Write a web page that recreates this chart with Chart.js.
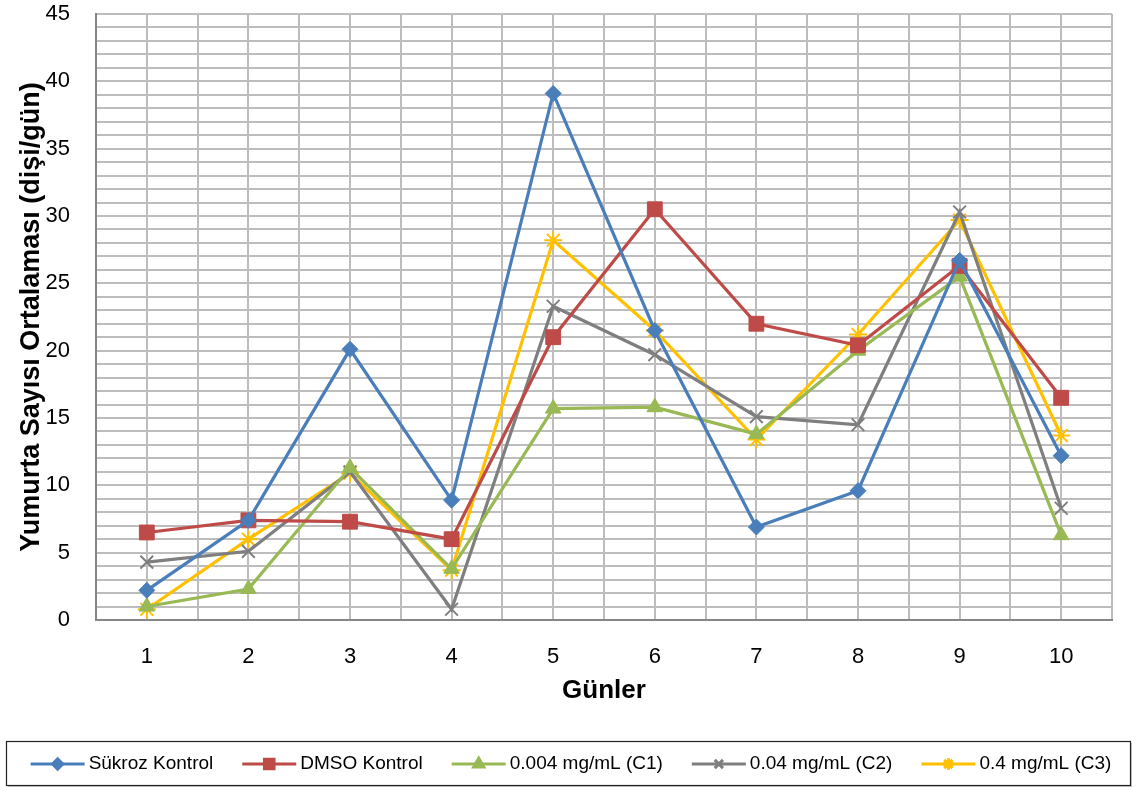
<!DOCTYPE html>
<html>
<head>
<meta charset="utf-8">
<script src="https://cdn.jsdelivr.net/npm/chart.js@4/dist/chart.umd.min.js"></script>
<style>
  html, body { margin: 0; padding: 0; background: #fff; }
  #wrap { width: 1136px; height: 787px; }
</style>
</head>
<body>
<div id="wrap"><canvas id="c" width="1136" height="787"></canvas></div>
<script>
const categories = [1, 2, 3, 4, 5, 6, 7, 8, 9, 10];
const seriesNames = ['Sükroz Kontrol', 'DMSO Kontrol', '0.004 mg/mL (C1)', '0.04 mg/mL (C2)', '0.4 mg/mL (C3)'];
const sukroz = [2.2, 7.4, 20.1, 8.9, 39.1, 21.5, 6.9, 9.6, 26.7, 12.2];
const dmso   = [6.5, 7.4, 7.3, 6.0, 21.0, 30.5, 22.0, 20.4, 26.3, 16.5];
const c1     = [1.0, 2.3, 11.3, 3.8, 15.7, 15.8, 13.8, 20.0, 25.5, 6.3];
const c2     = [4.3, 5.1, 11.0, 0.8, 23.3, 19.7, 15.1, 14.5, 30.3, 8.3];
const c3     = [0.8, 6.0, 10.9, 3.7, 28.2, 21.5, 13.4, 21.2, 29.7, 13.7];
const yTickLabels = [0, 5, 10, 15, 20, 25, 30, 35, 40, 45];
const xTitle = 'Günler';
const yTitle = 'Yumurta Sayısı Ortalaması (dişi/gün)';

const colors = ['#4A7EBB', '#BE4B48', '#98B954', '#7F7F7F', '#FFC000'];
const styles = ['rectRot', 'rect', 'triangle', 'crossRot', 'star'];
const radii = [8, 10.5, 9, 9, 9];
const allSeries = [sukroz, dmso, c1, c2, c3];

const datasets = allSeries.map((vals, i) => ({
  label: seriesNames[i],
  data: categories.map((c, k) => ({ x: c, y: vals[k] })),
  borderColor: colors[i],
  backgroundColor: colors[i],
  borderWidth: 3.2,
  pointStyle: styles[i],
  pointRadius: radii[i],
  pointBorderWidth: (i >= 3) ? 2 : 1,
  pointBorderColor: colors[i],
  pointBackgroundColor: colors[i],
  tension: 0
}));

function drawLegend(chart) {
  const ctx = chart.ctx;
  const bx = 6, by = 741, bw = 1124, bh = 44;
  ctx.save();
  ctx.fillStyle = '#C8C8C8';
  ctx.fillRect(bx + 2, by + 2, bw, bh);
  ctx.fillStyle = '#fff';
  ctx.fillRect(bx, by, bw, bh);
  ctx.strokeStyle = '#222';
  ctx.lineWidth = 1.2;
  ctx.strokeRect(bx + 0.5, by + 0.5, bw, bh);
  ctx.font = '19px "Liberation Sans", Arial, sans-serif';
  ctx.textBaseline = 'middle';
  const lineLen = 54, gap = 4, spacing = 29;
  const widths = chart.data.datasets.map(d => ctx.measureText(d.label).width);
  const total = widths.reduce((a, w) => a + lineLen + gap + w, 0) + spacing * (widths.length - 1);
  let x = bx + (bw - total) / 2 + 3;
  const cy = by + bh / 2 + 1;
  chart.data.datasets.forEach((d, i) => {
    ctx.strokeStyle = d.borderColor;
    ctx.lineWidth = 3;
    ctx.beginPath();
    ctx.moveTo(x, cy);
    ctx.lineTo(x + lineLen, cy);
    ctx.stroke();
    ctx.fillStyle = d.borderColor;
    ctx.strokeStyle = d.borderColor;
    Chart.helpers.drawPoint(ctx, {
      pointStyle: d.pointStyle,
      radius: d.pointRadius * 0.65,
      rotation: 0,
      borderWidth: d.pointBorderWidth
    }, x + lineLen / 2, cy);
    ctx.fillStyle = '#000';
    ctx.textAlign = 'left';
    ctx.fillText(d.label, x + lineLen + gap, cy);
    x += lineLen + gap + widths[i] + spacing;
  });
  ctx.restore();
}

new Chart(document.getElementById('c'), {
  type: 'line',
  data: { datasets },
  plugins: [{ id: 'boxLegend', afterDraw: drawLegend }],
  options: {
    responsive: false,
    animation: false,
    devicePixelRatio: 1,
    layout: { padding: { top: 14, right: 16, bottom: 77, left: 0 } },
    plugins: {
      legend: { display: false },
      tooltip: { enabled: false }
    },
    scales: {
      x: {
        type: 'linear',
        min: 0.5,
        max: 10.5,
        afterFit(scale) { scale.height = 90; },
        border: { color: '#868686', width: 2 },
        grid: { color: '#BDBDBD', lineWidth: 2, drawTicks: false },
        ticks: {
          stepSize: 0.5,
          autoSkip: false,
          maxRotation: 0,
          padding: 24,
          color: '#000',
          font: { family: '"Liberation Sans", Arial, sans-serif', size: 22 },
          callback: (v) => categories.includes(v) ? String(v) : ''
        },
        title: {
          display: true,
          text: xTitle,
          color: '#000',
          padding: { top: 14 },
          font: { family: '"Liberation Sans", Arial, sans-serif', size: 26, weight: 'bold' }
        }
      },
      y: {
        min: 0,
        max: 45,
        afterFit(scale) { scale.width = 96; },
        border: { color: '#868686', width: 2 },
        grid: { color: '#BDBDBD', lineWidth: 2, drawTicks: true, tickLength: 26, tickColor: 'rgba(0,0,0,0)' },
        ticks: {
          stepSize: 1,
          autoSkip: false,
          padding: 0,
          color: '#000',
          font: { family: '"Liberation Sans", Arial, sans-serif', size: 22 },
          callback: (v) => yTickLabels.includes(v) ? String(v) : ''
        },
        title: {
          display: true,
          text: yTitle,
          color: '#000',
          padding: { top: 15, bottom: 0 },
          font: { family: '"Liberation Sans", Arial, sans-serif', size: 27, weight: 'bold' }
        }
      }
    }
  }
});
</script>
</body>
</html>
